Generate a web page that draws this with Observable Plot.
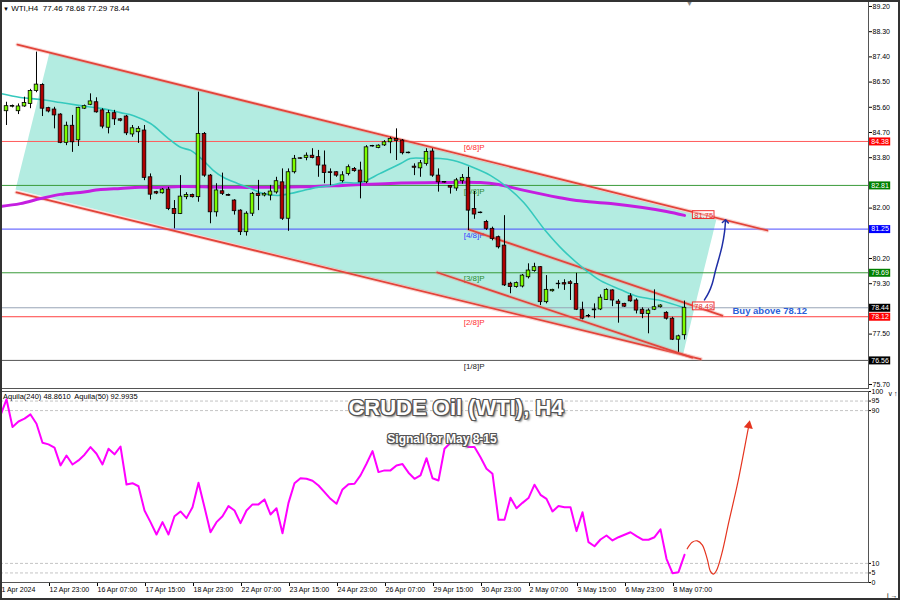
<!DOCTYPE html>
<html><head><meta charset="utf-8">
<script src="https://cdn.jsdelivr.net/npm/d3@7"></script>
<script src="https://cdn.jsdelivr.net/npm/@observablehq/plot@0.6"></script>
<style>
html,body{margin:0;padding:0;background:#fff;}
#wrap{position:relative;width:900px;height:600px;overflow:hidden;background:#fff;font-family:"Liberation Sans",Arial,sans-serif;}
#main,#ind{position:absolute;left:0;}
#main{top:0;} #ind{top:388px;}
.ov{position:absolute;white-space:nowrap;}
#border{position:absolute;left:0;top:0;width:900px;height:600px;box-sizing:border-box;border:2px solid #333;pointer-events:none;}
.big{color:#fff;font-weight:bold;text-align:center;text-shadow:-1px -1px 0 #555,1px -1px 0 #555,-1px 1px 0 #555,1px 1px 0 #555,0 -1px 0 #555,0 1px 0 #555,-1px 0 0 #555,1px 0 0 #555,2px 2px 2px #777;}
</style></head><body>
<div id="wrap">
  <div id="main"></div>
  <div id="ind"></div>
  <div class="ov" style="left:3px;top:4px;font-size:8px;line-height:9px;color:#000;"><span style="font-size:6px">▼</span> WTI,H4&nbsp; 77.46 78.68 77.29 78.44</div>
  <div class="ov" style="left:686px;top:0px;font-size:7px;line-height:8px;color:#888;">▼</div>
  <div class="ov" style="left:3px;top:392px;font-size:7.5px;line-height:9px;color:#000;">Aquila(240) 48.8610&nbsp; Aquila(50) 92.9935</div>
  <div class="ov big" style="left:0;width:912px;top:396px;font-size:22px;line-height:24px;">CRUDE Oil (WTI), H4</div>
  <div class="ov big" style="left:0;width:884px;top:432px;font-size:12px;line-height:14px;">Signal for May 8-15</div>
  <div id="border"></div>
</div>
<script>
// ---- Candles (H4), index 1..114 ----
const opens  = [85.46,85.62,85.46,85.63,85.72,86.18,86.40,85.57,85.52,85.34,84.33,84.94,84.42,85.55,85.69,85.78,85.49,84.87,85.39,85.17,
85.27,84.63,84.71,84.77,83.10,82.57,82.53,82.66,81.97,81.79,82.39,82.47,82.39,84.65,83.16,81.85,82.60,82.47,82.27,81.91,
81.14,81.80,82.51,82.45,82.45,82.56,82.92,81.62,83.28,83.78,83.79,83.87,83.82,83.52,83.28,83.28,82.96,83.22,83.40,83.34,
82.92,84.22,84.15,84.24,84.35,84.47,84.41,83.98,83.48,83.42,83.58,84.02,83.16,82.93,82.79,82.70,82.96,83.08,81.97,81.84,
81.50,81.26,80.96,80.66,79.30,79.18,79.20,79.53,79.75,79.89,78.64,79.03,79.30,79.32,79.35,79.29,78.37,78.15,78.35,78.38,
78.72,79.06,78.66,78.58,78.85,78.70,78.37,78.22,78.37,78.46,78.26,78.05,77.30,77.46];
const highs  = [85.78,85.68,85.72,85.96,86.24,87.57,86.44,85.60,85.60,85.37,85.07,85.31,85.60,85.68,86.08,85.94,85.55,85.49,85.49,85.20,
85.31,84.95,84.91,84.95,83.22,82.60,82.70,82.74,82.27,83.16,82.55,82.50,86.14,84.70,83.20,82.87,83.25,82.50,82.30,81.94,
81.87,82.56,82.99,82.55,82.81,83.10,83.40,83.40,83.88,83.80,83.97,84.12,84.06,84.04,83.40,83.30,83.30,83.54,83.45,83.64,
84.23,84.24,84.26,84.41,84.53,84.83,84.45,84.00,83.58,83.70,84.12,84.12,83.40,82.95,82.80,83.06,83.20,83.46,82.60,81.86,
81.56,81.32,81.00,81.73,79.35,79.36,79.63,80.01,80.03,79.91,79.59,79.10,79.41,79.44,79.41,79.67,78.64,78.20,78.58,78.90,
79.12,79.08,78.73,78.60,78.94,78.76,78.44,78.40,79.08,78.55,78.30,78.10,77.46,78.68];
const lows   = [84.95,85.58,85.34,85.60,85.55,86.12,85.27,85.40,84.83,84.30,84.23,83.99,84.20,85.52,85.66,85.39,84.83,84.65,84.95,85.08,
84.59,84.53,84.31,82.98,82.29,82.48,82.50,81.91,81.26,81.77,82.30,82.36,82.21,83.10,81.44,81.68,82.45,82.42,81.75,81.02,
81.00,81.70,81.91,82.40,82.26,82.50,81.56,81.17,83.22,83.74,83.69,83.76,83.10,82.87,82.80,83.10,82.90,83.15,83.28,82.33,
82.87,84.18,84.12,84.20,83.94,83.70,83.90,83.94,83.16,83.10,83.50,83.10,82.57,82.89,82.50,82.60,82.85,81.20,81.60,81.80,
81.20,80.83,80.54,79.20,78.94,79.14,79.15,79.47,79.71,78.52,78.58,79.00,79.11,79.06,78.70,78.34,78.01,78.08,78.05,78.34,
78.70,78.48,77.89,78.45,78.64,78.22,78.05,77.51,78.34,78.43,78.00,77.27,76.85,77.29];
const closes = [85.64,85.65,85.63,85.75,86.18,86.41,85.55,85.45,85.31,84.33,84.94,84.35,85.58,85.64,85.81,85.42,84.91,85.39,85.17,85.12,
84.67,84.85,84.83,83.08,82.48,82.52,82.66,81.97,81.79,82.41,82.47,82.39,84.65,83.16,81.85,82.63,82.51,82.44,81.89,81.14,
81.80,82.51,82.43,82.51,82.59,82.96,81.62,83.28,83.76,83.76,83.87,83.79,83.52,83.25,83.25,83.16,83.17,83.46,83.32,82.92,
84.17,84.20,84.23,84.35,84.47,84.40,83.96,83.96,83.44,83.60,84.00,83.16,82.92,82.91,82.73,82.99,83.08,81.91,81.77,81.82,
81.26,80.90,80.60,79.24,79.18,79.32,79.59,79.77,79.89,78.64,79.08,79.08,79.28,79.27,79.29,78.37,78.05,78.13,78.38,78.80,
79.08,78.70,78.58,78.48,78.67,78.34,78.22,78.34,78.46,78.52,78.05,77.30,77.42,78.44];

// ---- Moving averages ----
const cyanIdx = [0,3.3,6.7,10,13.3,16.7,20,22.2,25,27.8,30,31.7,33.8,35.5,37.2,39.5,41.7,43.8,46.2,48.3,50.5,52.8,55,57.2,60,63.3,66.7,68.3,71.2,73.3,75.5,78.8,81.7,84.5,87.2,90.8,93.8,97.2,98.3,100,103.3,106.2,110,113.8];
const cyanVal = [86.09,85.95,85.88,85.77,85.66,85.56,85.41,85.30,85.02,84.52,84.17,84.06,83.70,83.34,83.09,82.88,82.70,82.52,82.45,82.52,82.63,82.74,82.81,82.91,82.91,83.24,83.59,83.77,83.77,83.77,83.70,83.45,83.16,82.74,82.20,81.20,80.49,79.84,79.66,79.41,79.09,78.84,78.70,78.45];
const magIdx = [0,3.3,6.7,10,13.3,16.7,20,23.3,26.7,30,40,50,57,65,73,80,83,86.7,93,96,101.7,107,111,114];
const magVal = [82.06,82.16,82.34,82.49,82.56,82.66,82.70,82.74,82.74,82.77,82.74,82.76,82.81,82.88,82.91,82.91,82.84,82.66,82.38,82.27,82.16,82.02,81.88,81.74];

// ---- Channels ----
const chanUpperIdx = [2.83,127.8],  chanUpperVal = [87.84,81.2];
const chanLowerIdx = [2.67,116.7],  chanLowerVal = [82.56,76.61];
const innerUpperIdx = [78,120.3],   innerUpperVal = [81.24,78.16];
const innerLowerIdx = [72.8,115.3], innerLowerVal = [79.70,76.66];
const fillIdx = [2.5,8.17,119.3,113.75], fillVal = [82.66,87.56,81.58,76.77];

// ---- Murrey levels ----
const levelValues = [84.38,82.81,81.25,79.69,78.12,76.56];
const levelNames  = ["[6/8]P","[5/8]P","[4/8]P","[3/8]P","[2/8]P","[1/8]P"];
const levelLine   = ["#ff5a5a","#3a9a3a","#4a4aff","#3a9a3a","#ff4040","#555555"];
const levelText   = ["#ff3030","#2e8b2e","#3a3aff","#2e8b2e","#ff3030","#222222"];
const levelBox    = ["#ff0000","#008000","#0000ff","#008000","#ff0000","#000000"];
const lastPrice = 78.44;
const annotValues = [81.75,78.49];
const buyLevel = 78.12;

const priceTicks = [75.7,77.5,79.3,80.2,82.0,83.8,84.7,85.6,86.5,87.4,88.3,89.2];
const dateTickIdx = [0,8,16,24,32,40,48,56,64,72,80,88,96,104,112];
const dateTickLabels = ["1 Apr 2024","12 Apr 23:00","16 Apr 07:00","17 Apr 15:00","18 Apr 23:00","22 Apr 07:00","23 Apr 15:00","24 Apr 23:00","26 Apr 07:00","29 Apr 15:00","30 Apr 23:00","2 May 07:00","3 May 15:00","6 May 23:00","8 May 07:00"];

// ---- Indicator (Aquila), index 0..114 ----
const aquila = [87.5,95.9,81.4,84.3,85.8,88.0,83.1,73.2,72.3,70.6,
61.3,66.5,61.8,63.9,66.9,70.9,67.4,61.8,70.0,67.1,
71.2,51.3,52.0,50.4,37.7,31.6,25.1,31.6,25.1,34.7,
37.2,33.7,39.4,52.2,39.4,26.3,31.6,34.7,40.0,37.7,
31.1,37.7,40.9,40.9,43.5,35.6,38.9,25.8,41.7,52.0,
54.6,54.3,53.3,50.8,47.3,43.8,41.2,48.7,51.5,51.7,
56.1,62.2,68.8,57.8,58.7,58.7,61.3,62.0,57.5,54.3,
56.1,65.1,54.6,53.4,70.0,73.2,73.2,73.2,70.9,70.9,
65.6,59.6,56.9,32.8,32.8,44.4,38.9,41.7,44.2,51.2,
45.9,43.8,37.2,40.0,39.4,39.4,26.9,36.8,21.1,19.0,
22.5,24.6,22.0,23.7,25.0,26.3,24.3,22.4,22.4,23.7,
27.8,12.4,4.9,5.4,14.5];
const indLevels = [5,10,90,95];
const indTicks = [0,5,10,90,95,100];
const redArrowIdx = [114.45,115.28,116.12,116.95,117.78,118.33,118.78,119.33,120.28,121.38,122.78,123.88,124.72];
const redArrowVal = [17.65,21.1,21.8,19.7,12.4,5.8,4.4,6.3,15.9,31.6,50.8,68.3,82.2];
const blueArrowIdx = [117.33,118.05,118.62,119.17,119.72,120.28,120.67,120.83];
const blueArrowVal = [78.72,78.99,79.30,79.77,80.19,80.66,81.14,81.53];

// ---- build ----
const xMax = 144.667;
const zip = (a,b) => a.map((v,k)=>({i:v, v:b[k]}));
const candles = opens.map((o,k)=>({i:k+1, o, h:highs[k], l:lows[k], c:closes[k]}));
const levels = levelValues.map((v,k)=>({v, name:levelNames[k], lc:levelLine[k], tc:levelText[k], bc:levelBox[k]}));
const boxes = levels.concat([{v:lastPrice, bc:"#000000"}]);
const xScale = {domain:[0,xMax], axis:null};
const font = "Liberation Sans, Arial, sans-serif";

const main = Plot.plot({
  width:900, height:388, marginLeft:0, marginRight:32, marginTop:0, marginBottom:0,
  x: xScale, y:{domain:[75.557,89.414], axis:null}, color:{type:"identity"},
  style:{fontFamily:font, background:"transparent", overflow:"visible"},
  marks:[
    Plot.line(zip(fillIdx,fillVal), {x:"i", y:"v", fill:"#b3ece1", stroke:"none"}),
    Plot.ruleY(levels, {y:"v", stroke:"lc", strokeWidth:1}),
    Plot.ruleY([lastPrice], {stroke:"#98a4b6", strokeWidth:1}),
    Plot.text(levels, {x:()=>77.2, y:"v", text:"name", fill:"tc", textAnchor:"start", dy:6, fontSize:8}),
    ...[[chanUpperIdx,chanUpperVal],[chanLowerIdx,chanLowerVal],[innerUpperIdx,innerUpperVal],[innerLowerIdx,innerLowerVal]].flatMap(([a,b])=>[
      Plot.line(zip(a,b), {x:"i", y:"v", stroke:"#f08a80", strokeWidth:4, strokeOpacity:0.35}),
      Plot.line(zip(a,b), {x:"i", y:"v", stroke:"#e2443a", strokeWidth:1.8})
    ]),
    Plot.line(zip(magIdx,magVal), {x:"i", y:"v", stroke:"#c41ee0", strokeWidth:3, curve:"catmull-rom"}),
    Plot.line(zip(cyanIdx,cyanVal), {x:"i", y:"v", stroke:"#35c9bd", strokeWidth:1.6, curve:"catmull-rom"}),
    Plot.ruleX(candles, {x:"i", y1:"l", y2:"h", stroke:"#000", strokeWidth:1}),
    Plot.rect(candles, {x1:d=>d.i-0.3, x2:d=>d.i+0.3, y1:"o", y2:"c", fill:d=>d.c>=d.o?"#7cfc00":"#b00000", stroke:"#000", strokeWidth:0.8}),
    Plot.rect(annotValues, {x1:()=>115.4, x2:()=>119, y1:d=>d-0.14, y2:d=>d+0.14, fill:"#ffffff", fillOpacity:0.45, stroke:"#f03030", strokeWidth:1}),
    Plot.text(annotValues, {x:()=>117.2, y:d=>d, text:d=>d.toFixed(2), fill:"#e83030", fontSize:7.5}),
    Plot.line(zip(blueArrowIdx,blueArrowVal), {x:"i", y:"v", curve:"catmull-rom", stroke:"#1f2fa6", strokeWidth:1.5, markerEnd:"arrow"}),
    Plot.text([buyLevel], {x:()=>122, y:d=>d, dy:-6, text:d=>"Buy above "+d.toFixed(2), fill:"#2b5fd9", fontWeight:"bold", fontSize:9.5, textAnchor:"start"}),
    Plot.axisY(priceTicks, {anchor:"right", tickSize:3, tickPadding:1, tickFormat:d=>d.toFixed(2), fontSize:7, fill:"#000"}),
    Plot.ruleY(boxes, {y:"v", x1:()=>xMax+0.15, x2:()=>xMax+3.7, stroke:"bc", strokeWidth:8}),
    Plot.text(boxes, {y:"v", x:()=>xMax+1.92, text:d=>d.v.toFixed(2), fill:"#fff", fontSize:7}),
    Plot.frame({stroke:"#555"})
  ]
});
document.getElementById("main").appendChild(main);

const ang = Math.atan2(redArrowIdx[12]-redArrowIdx[11], (redArrowVal[12]-redArrowVal[11])*0.32) * 180/Math.PI;
const ind = Plot.plot({
  width:900, height:212, marginLeft:0, marginRight:32, marginTop:3, marginBottom:18,
  x:xScale, y:{domain:[0,100], axis:null}, color:{type:"identity"},
  style:{fontFamily:font, background:"transparent", overflow:"visible"},
  marks:[
    Plot.ruleY(indLevels, {stroke:"#c4c4c4", strokeDasharray:"3,2"}),
    Plot.line(aquila.map((v,k)=>({i:k, v})), {x:"i", y:"v", stroke:"#ff00ff", strokeWidth:2}),
    Plot.line(zip(redArrowIdx,redArrowVal), {x:"i", y:"v", curve:"catmull-rom", stroke:"#e5341f", strokeWidth:1.2}),
    Plot.dot([{i:redArrowIdx[12], v:redArrowVal[12]}], {x:"i", y:"v", symbol:"triangle", r:3.4, fill:"#e5341f", stroke:"none", rotate:ang}),
    Plot.axisY(indTicks, {anchor:"right", tickSize:2, tickPadding:1, fontSize:7, fill:"#000"}),
    Plot.axisX(dateTickIdx, {anchor:"bottom", tickSize:4, tickPadding:1, tickFormat:d=>dateTickLabels[dateTickIdx.indexOf(d)], textAnchor:"start", dx:1, fontSize:7, fill:"#000"}),
    Plot.frame({stroke:"#555"})
  ]
});
document.getElementById("ind").appendChild(ind);
</script>
</body></html>
